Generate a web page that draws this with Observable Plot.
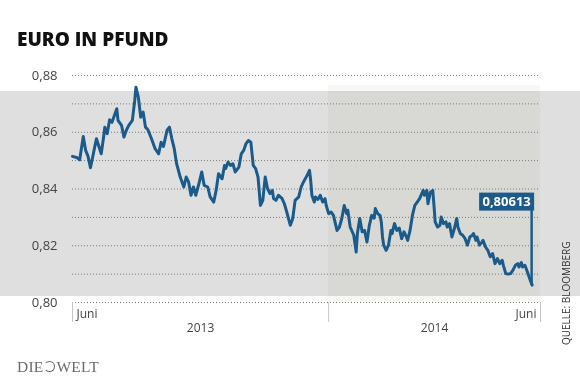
<!DOCTYPE html>
<html><head><meta charset="utf-8">
<script src="https://cdn.jsdelivr.net/npm/d3@7"></script>
<script src="https://cdn.jsdelivr.net/npm/@observablehq/plot@0.6"></script>
<style>
html,body{margin:0;padding:0;background:#fff;}
#wrap{position:relative;width:580px;height:386px;overflow:hidden;font-family:"Open Sans",sans-serif;}
#band{position:absolute;left:0;top:91px;width:580px;height:205px;background:#dfdfdf;}
#title{position:absolute;left:17px;top:30px;font-weight:800;font-size:19px;line-height:1;color:#111;font-family:"Open Sans",sans-serif;}
#chart{position:absolute;left:0;top:60px;}
#source{position:absolute;left:561px;top:345px;transform:rotate(-90deg);transform-origin:0 0;font-size:10px;line-height:1;color:#333;white-space:nowrap;font-family:"Open Sans",sans-serif;}
#logo{position:absolute;left:17px;top:359px;font-family:"Liberation Serif",serif;font-size:15.5px;line-height:1;color:#6a6a6a;white-space:nowrap;letter-spacing:0.2px;}
#logo .globe{display:inline-block;width:11px;height:11px;border-radius:50%;border:1.5px solid #6a6a6a;border-left-color:transparent;margin:0 1px;vertical-align:0px;box-sizing:border-box;}
</style>
</head><body>
<div id="wrap">
  <div id="band"></div>
  <div id="title">EURO IN PFUND</div>
  <div id="chart"></div>
  <div id="source">QUELLE: BLOOMBERG</div>
  <div id="logo">DIE<span class="globe"></span>WELT</div>
</div>
<script>
const dates = [
"2013-06-01","2013-06-05","2013-06-07","2013-06-10","2013-06-12","2013-06-14","2013-06-16","2013-06-19","2013-06-21","2013-06-25","2013-06-27","2013-06-28","2013-06-30",
"2013-07-02","2013-07-04","2013-07-06","2013-07-08","2013-07-09","2013-07-12","2013-07-14","2013-07-16","2013-07-18","2013-07-21","2013-07-23","2013-07-24","2013-07-26","2013-07-28","2013-07-30",
"2013-08-01","2013-08-03","2013-08-06","2013-08-09","2013-08-12","2013-08-14","2013-08-16","2013-08-19","2013-08-21","2013-08-23","2013-08-25","2013-08-27","2013-08-30",
"2013-09-02","2013-09-04","2013-09-06","2013-09-08","2013-09-10","2013-09-12","2013-09-15","2013-09-17","2013-09-19","2013-09-22","2013-09-24","2013-09-27","2013-09-29",
"2013-10-01","2013-10-04","2013-10-06","2013-10-07","2013-10-09","2013-10-11","2013-10-13","2013-10-15","2013-10-18","2013-10-20","2013-10-22","2013-10-24","2013-10-26","2013-10-28","2013-10-30",
"2013-11-01","2013-11-03","2013-11-05","2013-11-07","2013-11-09","2013-11-11","2013-11-13","2013-11-15","2013-11-16","2013-11-18","2013-11-20","2013-11-23","2013-11-25","2013-11-27","2013-11-30",
"2013-12-02","2013-12-04","2013-12-07","2013-12-09","2013-12-11","2013-12-14","2013-12-16","2013-12-17","2013-12-18","2013-12-20","2013-12-21","2013-12-23","2013-12-25","2013-12-27","2013-12-29","2013-12-30",
"2014-01-01","2014-01-03","2014-01-05","2014-01-08","2014-01-10","2014-01-12","2014-01-14","2014-01-16","2014-01-17","2014-01-19","2014-01-22","2014-01-24","2014-01-25","2014-01-27","2014-01-29","2014-01-31",
"2014-02-02","2014-02-04","2014-02-06","2014-02-08","2014-02-09","2014-02-11","2014-02-13","2014-02-14","2014-02-15","2014-02-16","2014-02-18","2014-02-20","2014-02-22","2014-02-23","2014-02-25","2014-02-27",
"2014-03-01","2014-03-03","2014-03-05","2014-03-07","2014-03-08","2014-03-10","2014-03-12","2014-03-14","2014-03-16","2014-03-18","2014-03-21","2014-03-22","2014-03-24","2014-03-25","2014-03-27","2014-03-29","2014-03-30","2014-03-31",
"2014-04-02","2014-04-04","2014-04-05","2014-04-07","2014-04-09","2014-04-10","2014-04-12","2014-04-14","2014-04-16","2014-04-18","2014-04-19","2014-04-21","2014-04-23","2014-04-25","2014-04-27","2014-04-29",
"2014-05-01","2014-05-02","2014-05-04","2014-05-05","2014-05-07","2014-05-09","2014-05-10","2014-05-12","2014-05-14","2014-05-16","2014-05-18","2014-05-20","2014-05-22","2014-05-24","2014-05-26","2014-05-27","2014-05-29","2014-05-31",
"2014-06-02","2014-06-04","2014-06-06","2014-06-08","2014-06-09","2014-06-11","2014-06-12","2014-06-14","2014-06-16","2014-06-18","2014-06-20"
];
const values = [
0.8515,0.8510,0.8503,0.8585,0.8536,0.8515,0.8475,0.8536,0.8577,0.8524,0.8583,0.8618,0.8595,
0.8644,0.8635,0.8659,0.8683,0.8642,0.8624,0.8583,0.8607,0.8624,0.8642,0.8712,0.8759,0.8724,0.8653,0.8671,
0.8618,0.8609,0.8577,0.8542,0.8524,0.8565,0.8550,0.8607,0.8618,0.8577,0.8542,0.8489,0.8442,
0.8407,0.8442,0.8425,0.8378,0.8407,0.8378,0.8425,0.8460,0.8413,0.8407,0.8372,0.8354,0.8395,
0.8454,0.8436,0.8483,0.8472,0.8495,0.8483,0.8489,0.8460,0.8477,0.8524,0.8536,0.8560,0.8571,0.8565,0.8483,
0.8472,0.8442,0.8342,0.8360,0.8442,0.8401,0.8384,0.8395,0.8366,0.8360,0.8378,0.8367,0.8348,0.8319,0.8272,
0.8296,0.8360,0.8372,0.8407,0.8425,0.8448,0.8466,0.8430,0.8378,0.8354,0.8372,0.8363,0.8378,0.8354,0.8366,0.8342,
0.8313,0.8319,0.8307,0.8254,0.8266,0.8296,0.8342,0.8313,0.8325,0.8266,0.8237,0.8178,0.8243,0.8296,0.8249,0.8254,
0.8213,0.8272,0.8307,0.8297,0.8331,0.8313,0.8307,0.8284,0.8231,0.8202,0.8184,0.8202,0.8254,0.8243,0.8278,0.8254,
0.8262,0.8225,0.8249,0.8231,0.8219,0.8254,0.8307,0.8342,0.8354,0.8366,0.8395,0.8378,0.8395,0.8348,0.8389,0.8395,0.8342,0.8284,
0.8266,0.8272,0.8301,0.8278,0.8284,0.8266,0.8278,0.8231,0.8260,0.8296,0.8266,0.8243,0.8237,0.8225,0.8202,0.8231,
0.8237,0.8243,0.8219,0.8231,0.8202,0.8213,0.8219,0.8196,0.8184,0.8161,0.8172,0.8137,0.8155,0.8137,0.8149,0.8131,0.8102,0.8100,
0.8102,0.8114,0.8131,0.8137,0.8125,0.8141,0.8125,0.8131,0.8108,0.8084,0.80613
];
const yTicks = [0.80, 0.82, 0.84, 0.86, 0.88];
const gridValues = [0.80, 0.81, 0.82, 0.83, 0.84, 0.85, 0.86, 0.87, 0.88];
const xDomain = ["2013-06-01", "2014-06-27"];
const yearStart = "2014-01-01";
const yearLabels = ["2013", "2014"];
const monthLabels = ["Juni", "Juni"];
const lastLabel = "0,80613";

const parse = d3.utcParse("%Y-%m-%d");
const data = dates.map((d, i) => ({date: parse(d), value: values[i]}));
const x0 = parse(xDomain[0]), x1 = parse(xDomain[1]), xy = parse(yearStart);
const last = data[data.length - 1];
const blue = "#1b5b8b";
const fmt = v => v.toFixed(2).replace(".", ",");
const mid = (a, b) => new Date((+a + +b) / 2);

const belowAxis = 0.80 - 20 / 2842;

const chart = Plot.plot({
  width: 580,
  height: 326,
  marginLeft: 72,
  marginRight: 40,
  marginTop: 15,
  marginBottom: 84,
  style: {background: "transparent", fontFamily: "Open Sans, sans-serif", fontSize: "12px", overflow: "visible"},
  x: {type: "utc", domain: [x0, x1], axis: null},
  y: {domain: [0.80, 0.88], axis: null},
  marks: [
    Plot.rect([{a: xy, b: x1}], {x1: "a", x2: "b", y1: 0.80, y2: 0.8764, fill: "#f7f7f3", mixBlendMode: "multiply"}),
    Plot.ruleY(gridValues, {stroke: "#7a7a7a", strokeDasharray: "1,2", strokeWidth: 1}),
    Plot.ruleX([x0, xy, x1], {x: d => d, y1: 0.80, y2: belowAxis, stroke: "#c4c4c4", strokeWidth: 1}),
    Plot.text(yTicks, {y: d => d, frameAnchor: "left", dx: -15, textAnchor: "end", text: fmt, fill: "#444", fontSize: 13}),
    Plot.text([x0], {x: d => d, frameAnchor: "bottom", dy: 15, dx: 4, textAnchor: "start", text: () => monthLabels[0], fill: "#444", fontSize: 12}),
    Plot.text([x1], {x: d => d, frameAnchor: "bottom", dy: 15, dx: -4, textAnchor: "end", text: () => monthLabels[1], fill: "#444", fontSize: 12}),
    Plot.text([mid(x0, xy), mid(xy, x1)], {x: d => d, frameAnchor: "bottom", dy: 29, text: (d, i) => yearLabels[i], fill: "#444", fontSize: 12}),
    Plot.line(data, {x: "date", y: "value", stroke: blue, strokeWidth: 3, strokeLinejoin: "round"}),
    (index, scales) => {
      const px = scales.x(last.date), py = scales.y(last.value);
      const g = d3.create("svg:g");
      const bw = 55, bh = 18;
      const bx = px + 2.5 - bw, by = py - 92;
      g.append("line").attr("x1", px).attr("x2", px).attr("y1", by + bh - 1).attr("y2", py)
        .attr("stroke", blue).attr("stroke-width", 2.5);
      g.append("rect").attr("x", bx).attr("y", by).attr("width", bw).attr("height", bh).attr("fill", blue);
      g.append("text").attr("x", bx + bw / 2).attr("y", by + bh / 2).attr("dy", "0.35em")
        .attr("text-anchor", "middle").attr("fill", "#fff").attr("font-weight", "bold")
        .attr("font-size", 13).attr("font-family", "Open Sans, sans-serif").text(lastLabel);
      return g.node();
    }
  ]
});
document.getElementById("chart").appendChild(chart);
</script>
</body></html>
